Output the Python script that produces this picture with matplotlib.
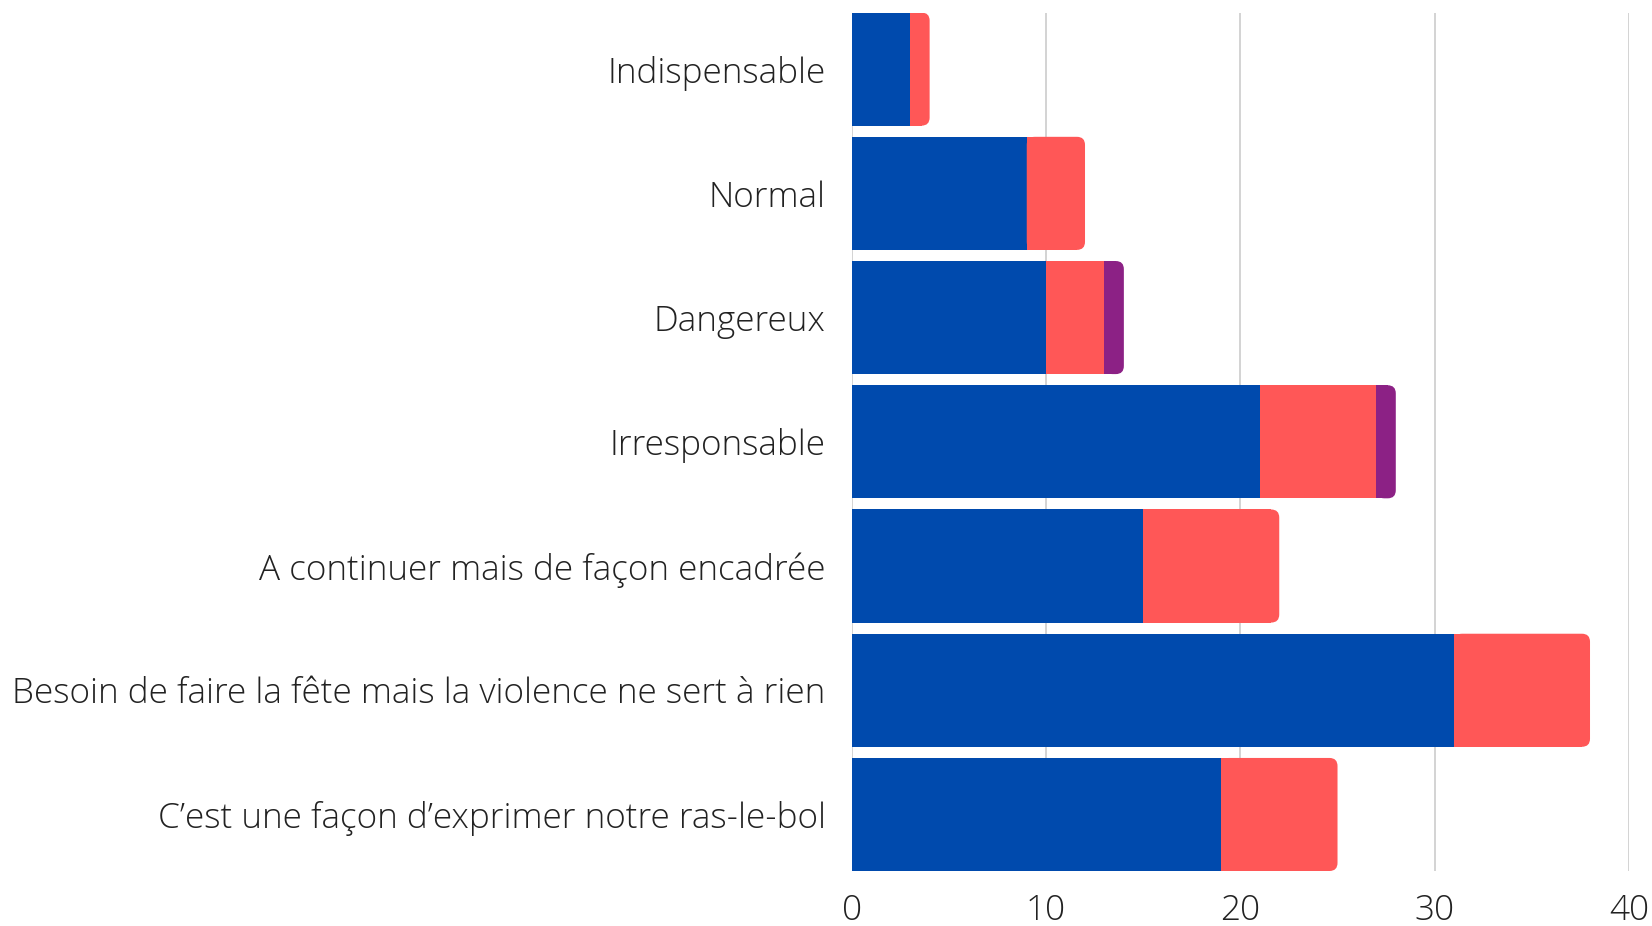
import numpy as np
import matplotlib.pyplot as plt
from matplotlib.patches import FancyBboxPatch

categories = [
    "Indispensable",
    "Normal",
    "Dangereux",
    "Irresponsable",
    "A continuer mais de façon encadrée",
    "Besoin de faire la fête mais la violence ne sert à rien",
    "C\u2019est une façon d\u2019exprimer notre ras-le-bol",
]
blue_vals = [3, 9, 10, 21, 15, 31, 19]
red_vals = [1, 3, 3, 6, 7, 7, 6]
purple_vals = [0, 0, 1, 1, 0, 0, 0]
colors = ["#004aad", "#ff5757", "#8c2185"]

plt.rcParams["font.family"] = ["Open Sans", "DejaVu Sans"]

fig = plt.figure(figsize=(16.52, 9.26), dpi=100)
ax = fig.add_axes([0.5157, 0.0594, 0.4703, 0.927])

y = np.arange(len(categories))
h = 0.91
series = [blue_vals, red_vals, purple_vals]

# px -> data scaling for rounded corners
x_per_px = 40 / 777
y_per_px = 7 / 858
r_px = 8

for i in range(len(categories)):
    start = 0
    segs = [(s[i], colors[k]) for k, s in enumerate(series) if s[i] > 0]
    for j, (v, c) in enumerate(segs):
        last = j == len(segs) - 1
        if not last:
            ax.barh(y[i], v, left=start, height=h, color=c, linewidth=0, zorder=3)
        else:
            r = r_px * x_per_px
            ax.barh(y[i], v - r, left=start, height=h, color=c, linewidth=0, zorder=3)
            patch = FancyBboxPatch((start, y[i] - h / 2), v, h,
                                   boxstyle=f"round,pad=0,rounding_size={r}",
                                   mutation_aspect=y_per_px / x_per_px,
                                   facecolor=c, edgecolor="none", zorder=3)
            ax.add_patch(patch)
        start += v

ax.set_xlim(0, 40)
ax.set_ylim(len(categories) - 1 + h / 2, -h / 2)
ax.set_xticks([0, 10, 20, 30, 40])
ax.set_yticks(y, categories)
ax.xaxis.grid(True, color="#d0d0d0", linewidth=1.3, zorder=0)
ax.set_axisbelow(True)
for s in ["top", "right", "bottom", "left"]:
    ax.spines[s].set_visible(False)
ax.tick_params(axis="y", length=0, pad=19, labelsize=25.3, labelcolor="#222222")
ax.tick_params(axis="x", length=0, pad=16, labelsize=25.3, labelcolor="#222222")
for lab in ax.get_yticklabels() + ax.get_xticklabels():
    lab.set_fontweight("light")

fig.savefig("out.png", dpi=100)
